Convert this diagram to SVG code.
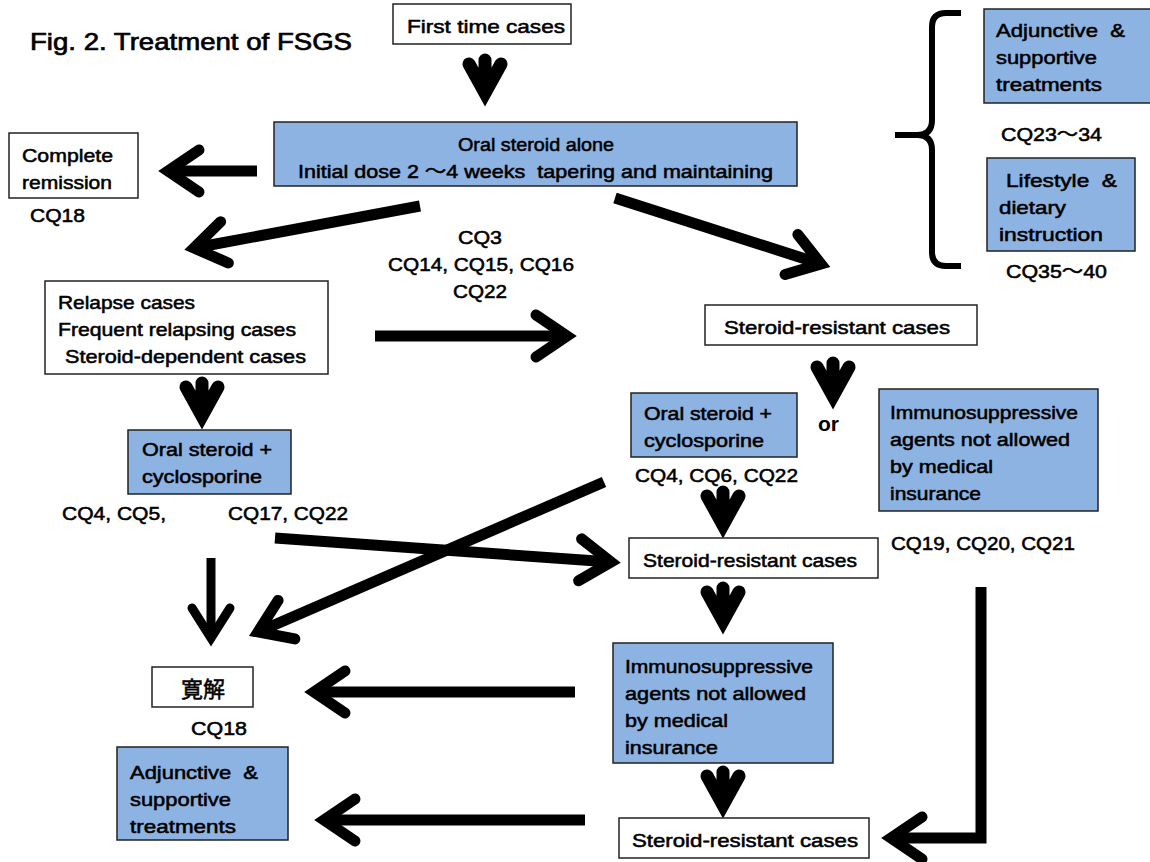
<svg xmlns="http://www.w3.org/2000/svg" width="1150" height="862" viewBox="0 0 1150 862">
<style>
text{font-family:"Liberation Sans","Noto Sans CJK JP",sans-serif;font-size:19px;fill:#000;stroke:#000;stroke-width:0.55}
.t{font-size:24px;stroke-width:0.7}
.b{font-weight:bold;font-size:21px;stroke-width:0}
.k{font-size:22px}
.box{fill:#fff;stroke:#222;stroke-width:1.5}
.blue{fill:#8DB3E2;stroke:#222;stroke-width:1.5}
.ar{fill:none;stroke:#000;stroke-width:11}
.ar2{fill:none;stroke:#000;stroke-width:9}
.ch{fill:none;stroke:#000;stroke-width:13;stroke-linecap:round;stroke-linejoin:miter;stroke-miterlimit:6}
.br{fill:none;stroke:#000;stroke-width:6;stroke-linecap:butt}
</style>
<defs>
<marker id="ah" markerUnits="userSpaceOnUse" viewBox="-50 -35 60 70" refX="0" refY="0" markerWidth="60" markerHeight="70" orient="auto" overflow="visible">
<path d="M-31,-21 L0,0 L-31,21" fill="none" stroke="#000" stroke-width="11" stroke-linecap="round" stroke-linejoin="miter" stroke-miterlimit="6"/>
</marker>
<marker id="ah2" markerUnits="userSpaceOnUse" viewBox="-50 -35 60 70" refX="0" refY="0" markerWidth="60" markerHeight="70" orient="auto" overflow="visible">
<path d="M-30,-19 L0,0 L-30,19" fill="none" stroke="#000" stroke-width="9" stroke-linecap="round" stroke-linejoin="miter" stroke-miterlimit="6"/>
</marker>
<path id="dch" d="M-16,-29 L0,0 L16,-29 M0,-33 L0,-4"/>
</defs>

<text class="t" x="30" y="50" textLength="322" lengthAdjust="spacingAndGlyphs">Fig. 2. Treatment of FSGS</text>

<g id="connectors">
<use href="#dch" class="ch" x="485" y="93"/>
<use href="#dch" class="ch" x="202" y="416"/>
<use href="#dch" class="ch" x="833" y="396"/>
<use href="#dch" class="ch" x="723" y="525"/>
<use href="#dch" class="ch" x="723" y="621"/>
<use href="#dch" class="ch" x="723" y="805"/>
<path class="ar" d="M257,171 L168,171" marker-end="url(#ah)"/>
<path class="ar" d="M420,206 L194,248" marker-end="url(#ah)"/>
<path class="ar" d="M615,198 L821,264" marker-end="url(#ah)"/>
<path class="ar" d="M375,336 L567,336" marker-end="url(#ah)"/>
<path class="ar" d="M275,538 L611,562" marker-end="url(#ah)"/>
<path class="ar" d="M604,482 L258,632" marker-end="url(#ah)"/>
<path class="ar2" d="M211,558 L211,638" marker-end="url(#ah2)"/>
<path class="ar" d="M575,692 L314,692" marker-end="url(#ah)"/>
<path class="ar" d="M585,820 L324,820" marker-end="url(#ah)"/>
<path class="ar" d="M981,587 L981,838 L891,838" marker-end="url(#ah)"/>
<path class="br" d="M961,13 L946,13 Q932,13 932,27 L932,120 Q932,135 917,135 L895,135 M917,135 Q932,135 932,150 L932,252 Q932,266 946,266 L961,266"/>
</g>

<g id="first">
<rect class="box" x="393" y="4" width="178" height="40"/>
<text x="407" y="33" textLength="158" lengthAdjust="spacingAndGlyphs">First time cases</text>
</g>

<g id="oral-alone">
<rect class="blue" x="274" y="122" width="523" height="64"/>
<text x="458" y="151" textLength="156" lengthAdjust="spacingAndGlyphs">Oral steroid alone</text>
<text x="298" y="178" textLength="475" lengthAdjust="spacingAndGlyphs" xml:space="preserve">Initial dose 2 ～4 weeks  tapering and maintaining</text>
</g>

<g id="complete">
<rect class="box" x="9" y="133" width="129" height="65"/>
<text x="22" y="162" textLength="91" lengthAdjust="spacingAndGlyphs">Complete</text>
<text x="22" y="189" textLength="90" lengthAdjust="spacingAndGlyphs">remission</text>
<text x="30" y="222" textLength="55" lengthAdjust="spacingAndGlyphs">CQ18</text>
</g>

<g id="cq-mid">
<text x="458" y="244" textLength="44" lengthAdjust="spacingAndGlyphs">CQ3</text>
<text x="388" y="271" textLength="186" lengthAdjust="spacingAndGlyphs">CQ14, CQ15, CQ16</text>
<text x="453" y="298" textLength="54" lengthAdjust="spacingAndGlyphs">CQ22</text>
</g>

<g id="relapse">
<rect class="box" x="45" y="281" width="283" height="93"/>
<text x="58" y="309" textLength="137" lengthAdjust="spacingAndGlyphs">Relapse cases</text>
<text x="58" y="336" textLength="238" lengthAdjust="spacingAndGlyphs">Frequent relapsing cases</text>
<text x="65" y="363" textLength="241" lengthAdjust="spacingAndGlyphs">Steroid-dependent cases</text>
</g>

<g id="sr1">
<rect class="box" x="705" y="305" width="272" height="40"/>
<text x="724" y="334" textLength="226" lengthAdjust="spacingAndGlyphs">Steroid-resistant cases</text>
</g>

<g id="adj-top">
<rect class="blue" x="984" y="9" width="170" height="94"/>
<text x="996" y="37" textLength="129" lengthAdjust="spacingAndGlyphs" xml:space="preserve">Adjunctive  &amp;</text>
<text x="996" y="64" textLength="101" lengthAdjust="spacingAndGlyphs">supportive</text>
<text x="996" y="91" textLength="106" lengthAdjust="spacingAndGlyphs">treatments</text>
<text x="1001" y="141" textLength="101" lengthAdjust="spacingAndGlyphs">CQ23～34</text>
</g>

<g id="lifestyle">
<rect class="blue" x="987" y="158" width="148" height="93"/>
<text x="1006" y="187" textLength="111" lengthAdjust="spacingAndGlyphs" xml:space="preserve">Lifestyle  &amp;</text>
<text x="999" y="214" textLength="67" lengthAdjust="spacingAndGlyphs">dietary</text>
<text x="999" y="241" textLength="104" lengthAdjust="spacingAndGlyphs">instruction</text>
<text x="1006" y="278" textLength="101" lengthAdjust="spacingAndGlyphs">CQ35～40</text>
</g>

<g id="or">
<text class="b" x="818" y="431">or</text>
</g>

<g id="cyclo-right">
<rect class="blue" x="631" y="393" width="166" height="64"/>
<text x="644" y="420" textLength="128" lengthAdjust="spacingAndGlyphs">Oral steroid +</text>
<text x="644" y="447" textLength="120" lengthAdjust="spacingAndGlyphs">cyclosporine</text>
<text x="635" y="482" textLength="163" lengthAdjust="spacingAndGlyphs">CQ4, CQ6, CQ22</text>
</g>

<g id="immuno-right">
<rect class="blue" x="879" y="389" width="219" height="122"/>
<text x="890" y="419" textLength="188" lengthAdjust="spacingAndGlyphs">Immunosuppressive</text>
<text x="890" y="446" textLength="180" lengthAdjust="spacingAndGlyphs">agents not allowed</text>
<text x="890" y="473" textLength="103" lengthAdjust="spacingAndGlyphs">by medical</text>
<text x="890" y="500" textLength="91" lengthAdjust="spacingAndGlyphs">insurance</text>
<text x="891" y="550" textLength="184" lengthAdjust="spacingAndGlyphs">CQ19, CQ20, CQ21</text>
</g>

<g id="sr2">
<rect class="box" x="629" y="538" width="249" height="40"/>
<text x="643" y="567" textLength="214" lengthAdjust="spacingAndGlyphs">Steroid-resistant cases</text>
</g>

<g id="immuno-center">
<rect class="blue" x="613" y="643" width="220" height="120"/>
<text x="625" y="673" textLength="188" lengthAdjust="spacingAndGlyphs">Immunosuppressive</text>
<text x="625" y="700" textLength="181" lengthAdjust="spacingAndGlyphs">agents not allowed</text>
<text x="625" y="727" textLength="103" lengthAdjust="spacingAndGlyphs">by medical</text>
<text x="625" y="754" textLength="93" lengthAdjust="spacingAndGlyphs">insurance</text>
</g>

<g id="sr3">
<rect class="box" x="619" y="818" width="250" height="40"/>
<text x="632" y="847" textLength="226" lengthAdjust="spacingAndGlyphs">Steroid-resistant cases</text>
</g>

<g id="cyclo-left">
<rect class="blue" x="128" y="430" width="163" height="64"/>
<text x="142" y="456" textLength="130" lengthAdjust="spacingAndGlyphs">Oral steroid +</text>
<text x="142" y="483" textLength="120" lengthAdjust="spacingAndGlyphs">cyclosporine</text>
<text x="62" y="520" textLength="104" lengthAdjust="spacingAndGlyphs">CQ4, CQ5,</text>
<text x="228" y="520" textLength="120" lengthAdjust="spacingAndGlyphs">CQ17, CQ22</text>
</g>

<g id="kankai">
<rect class="box" x="152" y="667" width="101" height="40"/>
<text class="k" x="181" y="697">寛解</text>
<text x="191" y="735" textLength="56" lengthAdjust="spacingAndGlyphs">CQ18</text>
</g>

<g id="adj-left">
<rect class="blue" x="117" y="747" width="171" height="93"/>
<text x="130" y="779" textLength="128" lengthAdjust="spacingAndGlyphs" xml:space="preserve">Adjunctive  &amp;</text>
<text x="130" y="806" textLength="101" lengthAdjust="spacingAndGlyphs">supportive</text>
<text x="130" y="833" textLength="106" lengthAdjust="spacingAndGlyphs">treatments</text>
</g>
</svg>
